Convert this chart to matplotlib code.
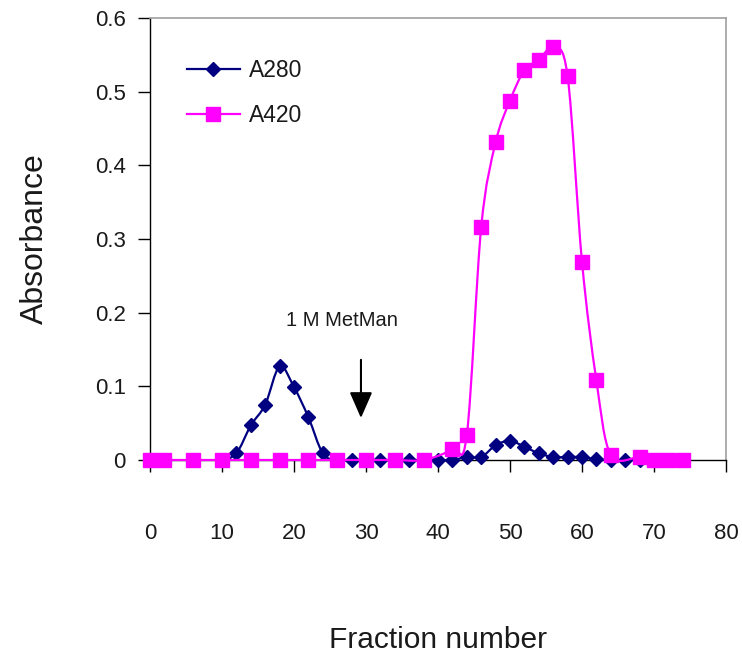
import numpy as np
import matplotlib
matplotlib.use("Agg")
import matplotlib.pyplot as plt
from matplotlib.path import Path
from matplotlib.patches import PathPatch
from matplotlib.lines import Line2D

plt.rcParams['font.family'] = ['Liberation Sans', 'DejaVu Sans']

# ---- data ----
a280_x = [10, 12, 14, 16, 18, 20, 22, 24, 26, 28, 30, 32, 34, 36, 38, 40, 42, 44, 46,
          48, 50, 52, 54, 56, 58, 60, 62, 64, 66, 68]
a280_y = [0.0, 0.009, 0.047, 0.075, 0.127, 0.099, 0.058, 0.009, 0.0, 0.0, 0.0, 0.0, 0.0,
          0.0, 0.0, 0.0, 0.0, 0.004, 0.004, 0.020, 0.026, 0.018, 0.009, 0.004, 0.004,
          0.004, 0.001, 0.0, 0.0, 0.0]
a420_x = [0, 2, 6, 10, 14, 18, 22, 26, 30, 34, 38, 42, 44, 46, 48, 50, 52, 54, 56, 58,
          60, 62, 64, 68, 70, 72, 74]
a420_y = [0.0, 0.0, 0.0, 0.0, 0.0, 0.0, 0.0, 0.0, 0.0, 0.0, 0.0, 0.0145, 0.034, 0.316,
          0.431, 0.488, 0.529, 0.543, 0.560, 0.521, 0.269, 0.108, 0.007, 0.004, 0.0,
          0.0, 0.0]
series_names = ["A280", "A420"]
x_ticks = [0, 10, 20, 30, 40, 50, 60, 70, 80]
y_ticks = [0, 0.1, 0.2, 0.3, 0.4, 0.5, 0.6]
y_tick_labels = ["0", "0.1", "0.2", "0.3", "0.4", "0.5", "0.6"]
annot_text = "1 M MetMan"
arrow_x = 29.3
arrow_top, arrow_tip = 0.136, 0.057

NAVY = "#000080"
MAGENTA = "#FF00FF"


def smooth_path(xs, ys):
    xs = np.asarray(xs, float)
    ys = np.asarray(ys, float)
    pts = np.column_stack([xs, ys])
    n = len(pts)
    verts = [pts[0]]
    codes = [Path.MOVETO]
    for i in range(n - 1):
        p0 = pts[i - 1] if i > 0 else pts[i]
        p1 = pts[i]
        p2 = pts[i + 1]
        p3 = pts[i + 2] if i + 2 < n else pts[i + 1]
        c1 = p1 + (p2 - p0) / 6.0
        c2 = p2 - (p3 - p1) / 6.0
        verts += [c1, c2, p2]
        codes += [Path.CURVE4] * 3
    return Path(verts, codes)


fig = plt.figure(figsize=(7.42, 6.54), dpi=100)
W, H = 742, 654
ax = fig.add_axes([150 / W, 1 - 460 / H, (726 - 150) / W, (460 - 18) / H])
ax.set_xlim(0, 80)
ax.set_ylim(0, 0.6)

# lines (smoothed)
ax.add_patch(PathPatch(smooth_path(a280_x, a280_y), facecolor='none', edgecolor=NAVY,
                       lw=1.6, zorder=3, clip_on=False))
ax.plot(a280_x, a280_y, linestyle='none', marker='D', ms=7, color=NAVY,
        zorder=4, clip_on=False)
ax.add_patch(PathPatch(smooth_path(a420_x, a420_y), facecolor='none', edgecolor=MAGENTA,
                       lw=1.6, zorder=5, clip_on=False))
ax.plot(a420_x, a420_y, linestyle='none', marker='s', ms=9.6, color=MAGENTA,
        zorder=6, clip_on=False)

# spines
for s in ['left', 'bottom']:
    ax.spines[s].set_color('black')
    ax.spines[s].set_linewidth(1.0)
for s in ['top', 'right']:
    ax.spines[s].set_color('#a0a0a0')
    ax.spines[s].set_linewidth(1.2)

ax.set_xticks(x_ticks)
ax.set_xticklabels([str(t) for t in x_ticks])
ax.set_yticks(y_ticks)
ax.set_yticklabels(y_tick_labels)
ax.tick_params(axis='both', direction='out', length=8.5, width=1.0, color='black',
               labelsize=16, labelcolor='#1a1a1a')
ax.tick_params(axis='x', pad=37)
ax.tick_params(axis='y', pad=9)

ax.set_xlabel("Fraction number", fontsize=21.5, color='#1a1a1a', labelpad=59)
ax.set_ylabel("Absorbance", fontsize=23, color='#1a1a1a', labelpad=32)

# annotation
ax.text(26.6, 0.19, annot_text, fontsize=14.5, ha='center', va='center', color='#1a1a1a')
ax.annotate('', xy=(arrow_x, arrow_tip), xytext=(arrow_x, arrow_top),
            arrowprops=dict(arrowstyle='-|>,head_length=0.8,head_width=0.35',
                            mutation_scale=20, color='black', lw=1.5,
                            shrinkA=0, shrinkB=0))

# legend
handles = [Line2D([], [], color=NAVY, lw=1.6, marker='D', ms=7),
           Line2D([], [], color=MAGENTA, lw=1.6, marker='s', ms=9.6)]
leg = ax.legend(handles, series_names, loc='upper left',
                bbox_to_anchor=(187 / W, 1 - 59 / H), bbox_transform=fig.transFigure,
                frameon=False, fontsize=16.5, handlelength=2.3, handletextpad=0.4,
                labelspacing=0.95, borderpad=0, borderaxespad=0)
for t in leg.get_texts():
    t.set_color('#1a1a1a')

fig.savefig("out.png", dpi=100)
